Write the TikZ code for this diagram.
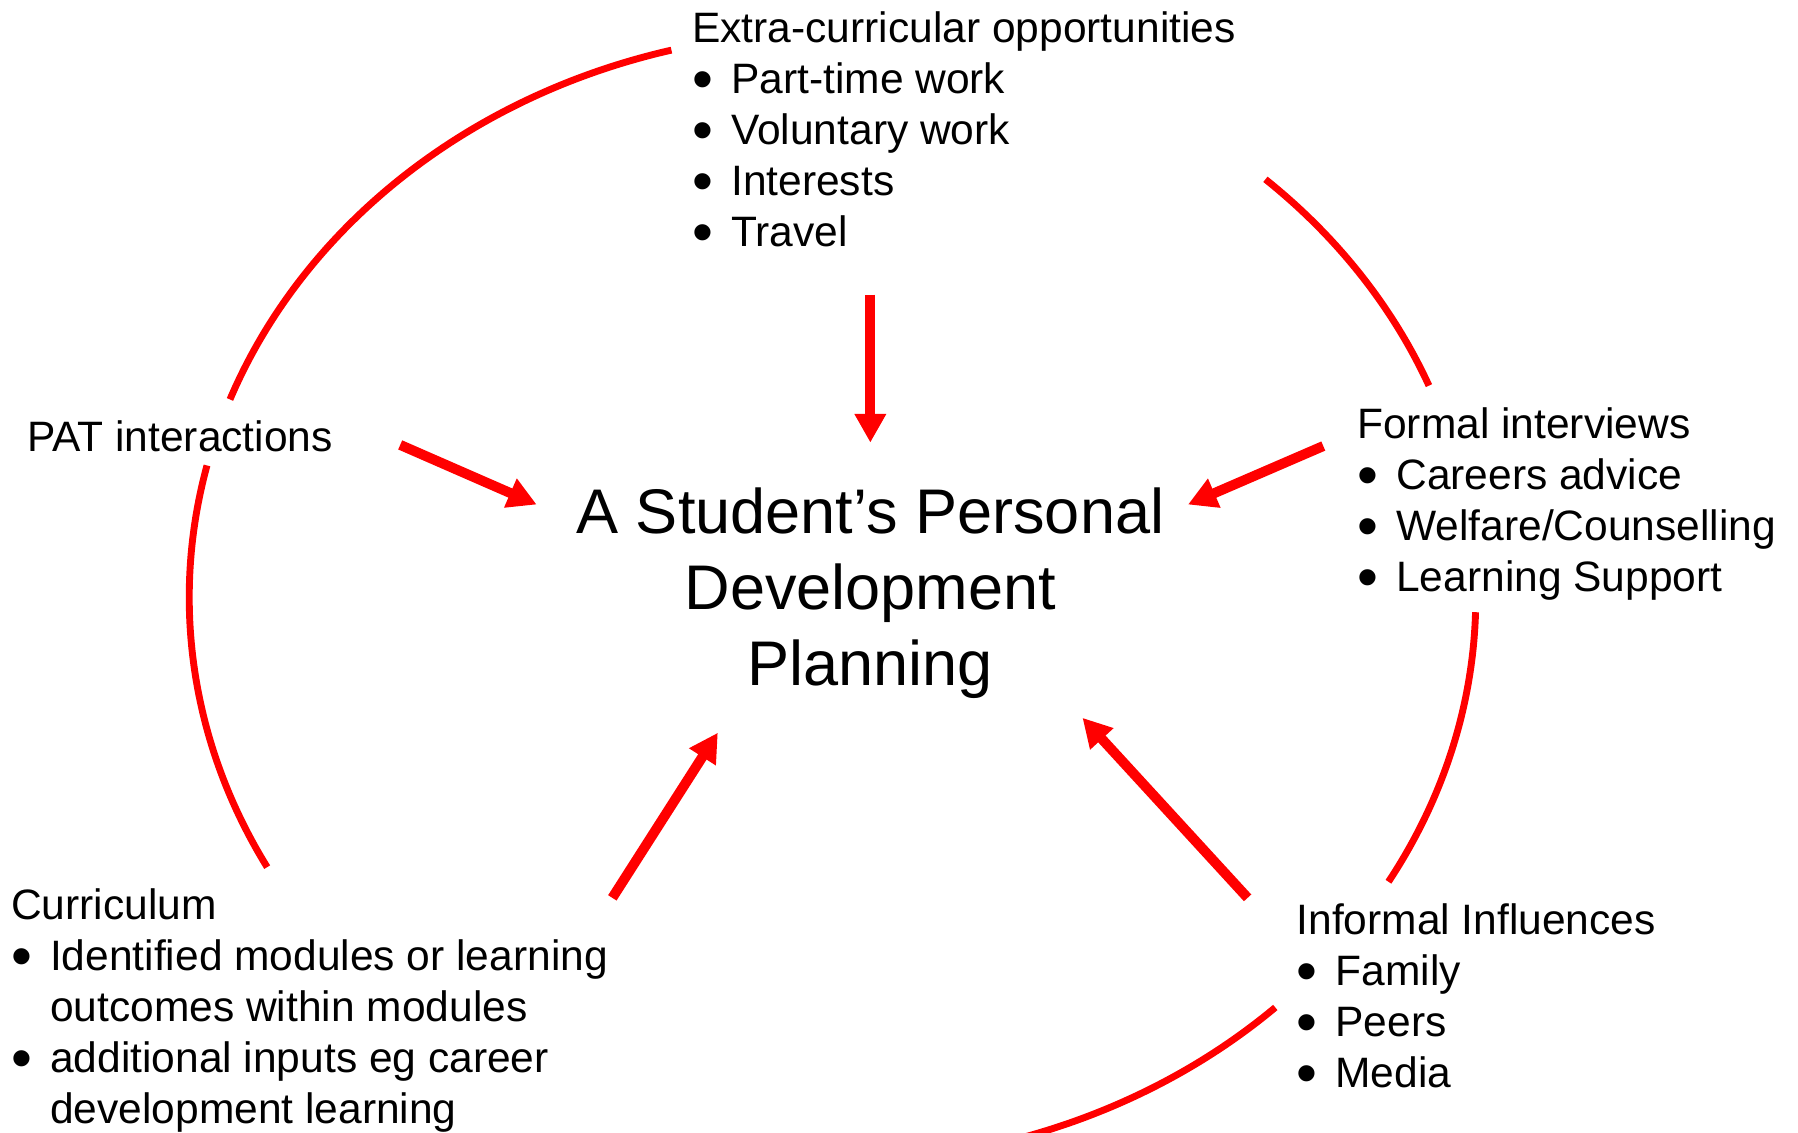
\documentclass[tikz,border=0pt]{standalone}
\usepackage{graphicx}
\usepackage{fontspec}
\setmainfont{Liberation Sans}
\usetikzlibrary{arrows.meta,calc}
\definecolor{ringred}{RGB}{255,0,0}
\newcommand{\bul}{\makebox[0.34cm][l]{\raisebox{-0.14em}{\scalebox{1.4}{\textbullet}}}}
\newcommand{\hang}{\hspace*{0.34cm}}

\begin{document}
\begin{tikzpicture}[
    infotext/.style={inner sep=0pt, anchor=base west, align=left, font=\fontsize{10.55}{12.66}\selectfont},
    ringarc/.style={ringred, line width=0.06cm},
    feedarrow/.style={ringred, line width=0.087cm, -{Triangle[width=0.26cm,length=0.25cm]}}
  ]
  \clip (0,0) rectangle (15.68,-9.88);

  % the planning in the middle (placed by its last line)
  \node[inner sep=0pt, anchor=base, align=center, font=\fontsize{15.65}{18.93}\selectfont] (pdp) at (7.59,-5.98) {A Student’s Personal\\Development\\Planning};

  % the influences round it (placed by their last lines)
  \node[infotext] (extra) at (6.03,-2.15) {Extra-curricular opportunities\\\bul Part-time work\\\bul Voluntary work\\\bul Interests\\\bul Travel};
  \node[infotext] (pat) at (0.23,-3.94) {PAT interactions};
  \node[infotext] (formal) at (11.83,-5.155) {Formal interviews\\\bul Careers advice\\\bul Welfare/Counselling\\\bul Learning Support};
  \node[infotext] (informal) at (11.30,-9.485) {Informal Influences\\\bul Family\\\bul Peers\\\bul Media};
  \node[infotext] (curric) at (0.09,-9.80) {Curriculum\\\bul Identified modules or learning\\\hang outcomes within modules\\\bul additional inputs eg career\\\hang development learning};

  % ring
  \coordinate (ring) at (7.26,-5.21);
  \foreach \a/\b in {104.5/159.5, 166.5/208.5, 47.7/22, -1.5/-30.2, -46.5/-80}
    \draw[ringarc] ([shift={(\a:5.61cm and 4.93cm)}]ring) arc[start angle=\a, end angle=\b, x radius=5.61cm, y radius=4.93cm];

  % arrows into the planning
  \coordinate (extra out) at (7.59,-2.57);
  \coordinate (pdp n) at (7.59,-3.86);
  \coordinate (pat out) at (3.49,-3.88);
  \coordinate (pdp nw) at (4.68,-4.40);
  \coordinate (formal out) at (11.54,-3.89);
  \coordinate (pdp ne) at (10.36,-4.40);
  \coordinate (curric out) at (5.34,-7.83);
  \coordinate (pdp sw) at (6.26,-6.39);
  \coordinate (informal out) at (10.88,-7.83);
  \coordinate (pdp se) at (9.44,-6.26);

  \draw[feedarrow] (extra out) -- (pdp n);
  \draw[feedarrow] (pat out) -- (pdp nw);
  \draw[feedarrow] (formal out) -- (pdp ne);
  \draw[feedarrow] (curric out) -- (pdp sw);
  \draw[feedarrow] (informal out) -- (pdp se);
\end{tikzpicture}
\end{document}
